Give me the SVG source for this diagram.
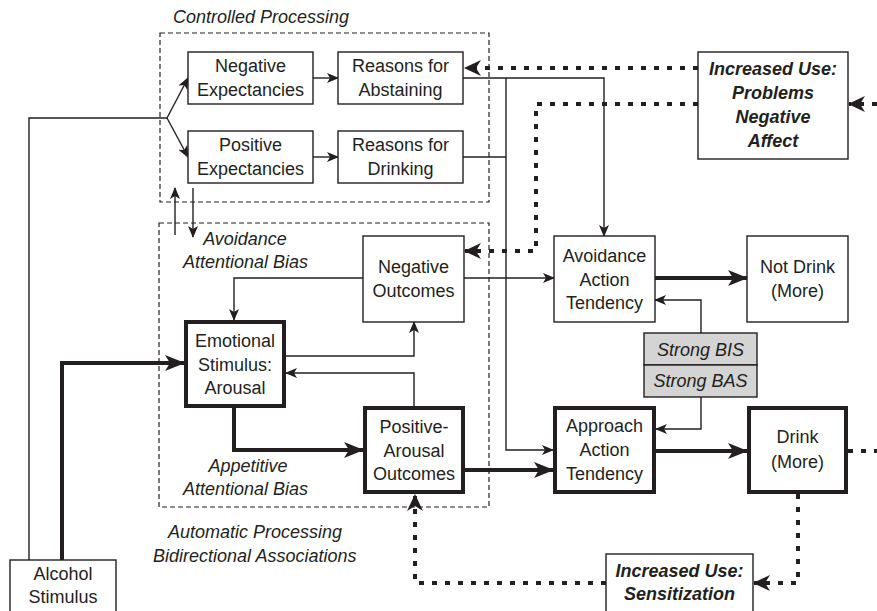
<svg xmlns="http://www.w3.org/2000/svg" width="877" height="611" viewBox="0 0 877 611">
<style>
text{font-family:"Liberation Sans",Arial,sans-serif;font-size:18px;fill:#231f20;text-anchor:middle}
.it{font-style:italic;text-anchor:start}
.itc{font-style:italic}
.bi{font-style:italic;font-weight:bold}
.box{fill:#fff;stroke:#231f20;stroke-width:1.4}
.tbox{fill:#fff;stroke:#231f20;stroke-width:4}
.gbox{fill:#d4d4d4;stroke:#231f20;stroke-width:1.4}
.dash{fill:none;stroke:#231f20;stroke-width:1.2;stroke-dasharray:5 3}
.thin{fill:none;stroke:#231f20;stroke-width:1.4}
.thick{fill:none;stroke:#231f20;stroke-width:4}
.dot{fill:none;stroke:#231f20;stroke-width:4;stroke-dasharray:5 8}
</style>
<defs>
<marker id="at" markerUnits="userSpaceOnUse" markerWidth="12" markerHeight="10" refX="11" refY="5" orient="auto"><path d="M0,0 L12,5 L0,10 L3,5 z" fill="#231f20"/></marker>
<marker id="ak" markerUnits="userSpaceOnUse" markerWidth="20" markerHeight="16" refX="19" refY="8" orient="auto"><path d="M0,0 L20,8 L0,16 L5,8 z" fill="#231f20"/></marker>
<marker id="ad" markerUnits="userSpaceOnUse" markerWidth="17" markerHeight="16" refX="16" refY="8" orient="auto"><path d="M0,0 L17,8 L0,16 L5,8 z" fill="#231f20"/></marker>
</defs>

<g id="groups">
<rect class="dash" x="160" y="33" width="329" height="169"/>
<rect class="dash" x="159" y="223" width="330" height="284"/>
<text class="it" x="173" y="23">Controlled Processing</text>
<text class="itc" x="245" y="245">Avoidance</text>
<text class="it" x="183" y="268">Attentional Bias</text>
<text class="itc" x="248" y="472">Appetitive</text>
<text class="it" x="183" y="495">Attentional Bias</text>
<text class="it" x="168" y="538">Automatic Processing</text>
<text class="it" x="153" y="562">Bidirectional Associations</text>
</g>

<g id="connectors">
<path class="thin" d="M29,560 V118 H167"/>
<path class="thin" d="M167,118 L188,78" marker-end="url(#at)"/>
<path class="thin" d="M167,118 L188,157" marker-end="url(#at)"/>
<path class="thin" d="M313,78 H338" marker-end="url(#at)"/>
<path class="thin" d="M313,157 H338" marker-end="url(#at)"/>
<path class="thin" d="M463,78 H604 V236" marker-end="url(#at)"/>
<path class="thin" d="M506,78 V450 H553" marker-end="url(#at)"/>
<path class="thin" d="M463,157 H506"/>
<path class="thin" d="M175,235 V188" marker-end="url(#at)"/>
<path class="thin" d="M193,188 V237" marker-end="url(#at)"/>
<path class="thin" d="M363,278 H234 V320" marker-end="url(#at)"/>
<path class="thin" d="M286,356 H414 V322" marker-end="url(#at)"/>
<path class="thin" d="M414,406 V373 H286" marker-end="url(#at)"/>
<path class="thin" d="M464,278 H554" marker-end="url(#at)"/>
<path class="thin" d="M701,333 V300 H655" marker-end="url(#at)"/>
<path class="thin" d="M701,397 V429 H656" marker-end="url(#at)"/>

<path class="thick" d="M62,560 V363 H184" marker-end="url(#ak)"/>
<path class="thick" d="M234,408 V450 H363" marker-end="url(#ak)"/>
<path class="thick" d="M465,470 H553" marker-end="url(#ak)"/>
<path class="thick" d="M656,451 H747" marker-end="url(#ak)"/>
<path class="thick" d="M655,278 H747" marker-end="url(#ak)"/>

<path class="dot" d="M698,68 H465" marker-end="url(#ad)"/>
<path class="dot" d="M698,104 H536 V251 H465" marker-end="url(#ad)"/>
<path class="dot" d="M877,104 H849" marker-end="url(#ad)"/>
<path class="dot" d="M848,451 H877"/>
<path class="dot" d="M798,494 V583 H754" marker-end="url(#ad)"/>
<path class="dot" d="M606,583 H415 V495" marker-end="url(#ad)"/>
</g>

<g id="neg-exp"><rect class="box" x="188" y="52" width="125" height="52"/><text x="250.5" y="72">Negative</text><text x="250.5" y="96">Expectancies</text></g>
<g id="pos-exp"><rect class="box" x="188" y="131" width="125" height="52"/><text x="250.5" y="151">Positive</text><text x="250.5" y="175">Expectancies</text></g>
<g id="reasons-abstain"><rect class="box" x="338" y="52" width="125" height="52"/><text x="400.5" y="72">Reasons for</text><text x="400.5" y="96">Abstaining</text></g>
<g id="reasons-drink"><rect class="box" x="338" y="131" width="125" height="52"/><text x="400.5" y="151">Reasons for</text><text x="400.5" y="175">Drinking</text></g>
<g id="neg-out"><rect class="box" x="363" y="236" width="101" height="86"/><text x="413.5" y="273">Negative</text><text x="413.5" y="297">Outcomes</text></g>
<g id="emotional"><rect class="tbox" x="186" y="322" width="98" height="84"/><text x="235" y="347">Emotional</text><text x="235" y="371">Stimulus:</text><text x="235" y="394">Arousal</text></g>
<g id="pos-arousal"><rect class="tbox" x="365" y="408" width="98" height="84"/><text x="414" y="433">Positive-</text><text x="414" y="457">Arousal</text><text x="414" y="480">Outcomes</text></g>
<g id="avoid"><rect class="box" x="554" y="236" width="101" height="86"/><text x="604.5" y="262">Avoidance</text><text x="604.5" y="286">Action</text><text x="604.5" y="309">Tendency</text></g>
<g id="not-drink"><rect class="box" x="747" y="236" width="101" height="86"/><text x="797.5" y="273">Not Drink</text><text x="797.5" y="297">(More)</text></g>
<g id="bis-bas"><rect class="gbox" x="644" y="333" width="113" height="32"/><rect class="gbox" x="644" y="365" width="113" height="32"/><text class="itc" x="700.5" y="356">Strong BIS</text><text class="itc" x="700.5" y="387">Strong BAS</text></g>
<g id="approach"><rect class="tbox" x="555" y="408" width="99" height="84"/><text x="604.5" y="432">Approach</text><text x="604.5" y="456">Action</text><text x="604.5" y="480">Tendency</text></g>
<g id="drink"><rect class="tbox" x="749" y="408" width="97" height="84"/><text x="797.5" y="443">Drink</text><text x="797.5" y="468">(More)</text></g>
<g id="problems"><rect class="box" x="698" y="52" width="150" height="107"/><text class="bi" x="773" y="75">Increased Use:</text><text class="bi" x="773" y="99">Problems</text><text class="bi" x="773" y="123">Negative</text><text class="bi" x="773" y="147">Affect</text></g>
<g id="sensitization"><rect class="box" x="606" y="554" width="147" height="60"/><text class="bi" x="679.5" y="577">Increased Use:</text><text class="bi" x="679.5" y="600">Sensitization</text></g>
<g id="alcohol"><rect class="box" x="10" y="560" width="106" height="54"/><text x="63" y="580">Alcohol</text><text x="63" y="603">Stimulus</text></g>
</svg>
